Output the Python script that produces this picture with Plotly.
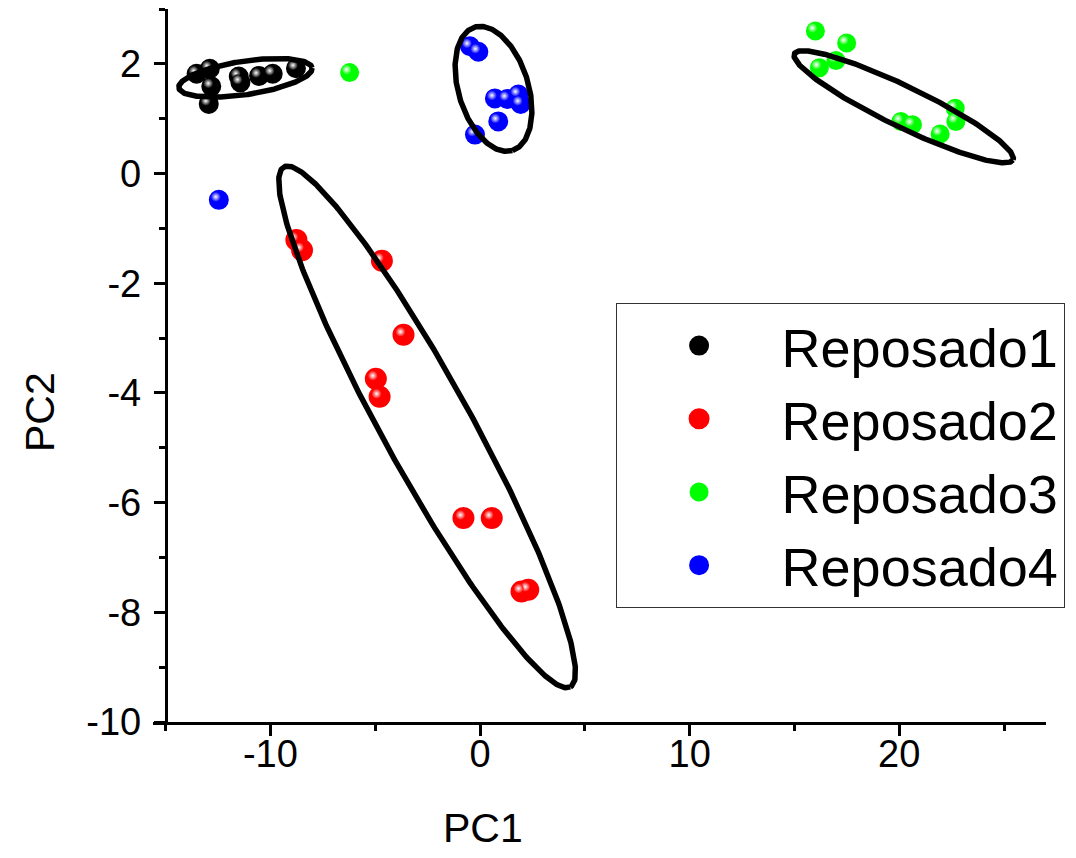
import numpy as np
import plotly.graph_objects as go

# ---- PCA scores (PC1, PC2) for each group ----
rep1_pc1 = [-13.52, -12.89, -12.82, -12.94, -11.51, -11.43, -10.54, -9.89, -8.78]
rep1_pc2 = [1.82, 1.91, 1.59, 1.27, 1.77, 1.66, 1.78, 1.82, 1.92]

rep2_pc1 = [-8.49, -8.76, -4.68, -3.65, -4.97, -4.79, -0.79, 0.56, 2.30, 1.98]
rep2_pc2 = [-1.40, -1.21, -1.59, -2.94, -3.74, -4.07, -6.28, -6.28, -7.59, -7.62]

rep3_pc1 = [16.00, 17.49, 16.98, 16.19, 20.08, 20.63, 21.95, 22.67, 22.70, -6.22]
rep3_pc2 = [2.60, 2.38, 2.06, 1.93, 0.95, 0.89, 0.72, 1.19, 0.95, 1.84]

rep4_pc1 = [-0.48, -0.08, 0.71, 1.30, 1.83, 1.94, 0.87, -0.24, -12.46]
rep4_pc2 = [2.32, 2.22, 1.37, 1.36, 1.44, 1.27, 0.95, 0.71, -0.48]

group_names = ["Reposado1", "Reposado2", "Reposado3", "Reposado4"]

# ---- confidence ellipses: centre and two conjugate semi-axes (PC units) ----
ellipse_center = [(-11.19, 1.745), (-2.524, -4.62), (20.21, 1.217), (0.643, 1.545)]
ellipse_axis_u = [(3.179, 0.182), (6.833, -4.740), (5.216, -0.966), (0.906, -1.124)]
ellipse_axis_v = [(0.1186, -0.303), (-1.850, -0.391), (-0.421, -0.333), (-1.593, -0.188)]

# ---- axes ----
x_range = [-15.6, 27]
y_range = [-10, 3]
x_tick_vals = [-10, 0, 10, 20]
x_tick_text = ["-10", "0", "10", "20"]
y_tick_vals = [-10, -8, -6, -4, -2, 0, 2]
y_tick_text = ["-10", "-8", "-6", "-4", "-2", "0", "2"]

# ---- styling ----
colors = ["#000000", "#ff0000", "#00ff00", "#0000ff"]
marker_core = [15, 17, 14, 15]
marker_rim = 5
FONT = "Liberation Sans, Arial, sans-serif"

W, H = 1076, 858
M = dict(l=153, r=30, t=9, b=136, autoexpand=False)
plot_w = W - M["l"] - M["r"]
plot_h = H - M["t"] - M["b"]
px_x = plot_w / (x_range[1] - x_range[0])
px_y = plot_h / (y_range[1] - y_range[0])
# shine spot sits a few pixels up-left of each ball's centre
shine_dx = -3.0 / px_x
shine_dy = 3.0 / px_y

groups = [(rep1_pc1, rep1_pc2), (rep2_pc1, rep2_pc2),
          (rep3_pc1, rep3_pc2), (rep4_pc1, rep4_pc2)]

fig = go.Figure()

for i, (xs, ys) in enumerate(groups):
    fig.add_trace(go.Scatter(
        x=xs, y=ys, mode="markers", name=group_names[i],
        legendgroup=group_names[i],
        marker=dict(size=marker_core[i], color=colors[i],
                    line=dict(width=marker_rim, color=colors[i])),
    ))
    fig.add_trace(go.Scatter(
        x=np.array(xs) + shine_dx, y=np.array(ys) + shine_dy,
        mode="markers", showlegend=False, legendgroup=group_names[i],
        hoverinfo="skip",
        marker=dict(size=10, color=colors[i],
                    gradient=dict(type="radial", color="#ffffff"),
                    line=dict(width=0)),
    ))

t = np.linspace(0, 2 * np.pi, 361)
for (cx, cy), (ux, uy), (vx, vy) in zip(ellipse_center, ellipse_axis_u, ellipse_axis_v):
    fig.add_trace(go.Scatter(
        x=cx + ux * np.cos(t) + vx * np.sin(t),
        y=cy + uy * np.cos(t) + vy * np.sin(t),
        mode="lines", showlegend=False, hoverinfo="skip",
        line=dict(color="black", width=5.5),
    ))

axis_common = dict(
    showgrid=False, zeroline=False, showline=True, linecolor="black",
    linewidth=2.5, ticks="outside", ticklen=11, tickwidth=2.5,
    tickcolor="black", tickfont=dict(size=38, family=FONT, color="black"),
)

fig.update_layout(
    width=W, height=H, margin=M,
    plot_bgcolor="white", paper_bgcolor="white",
    font=dict(family=FONT, color="black"),
    xaxis=dict(range=x_range, tickmode="array", tickvals=x_tick_vals,
               ticktext=x_tick_text, anchor="y", ticklabelstandoff=-14,
               minor=dict(dtick=5, tick0=0, ticks="outside", ticklen=6,
                          tickwidth=2.5, tickcolor="black", showgrid=False),
               **axis_common),
    yaxis=dict(range=y_range, tickmode="array", tickvals=y_tick_vals,
               ticktext=y_tick_text, anchor="free", ticklabelstandoff=5,
               position=(-15 - x_range[0]) / (x_range[1] - x_range[0]),
               minor=dict(dtick=1, tick0=0, ticks="outside", ticklen=6,
                          tickwidth=2.5, tickcolor="black", showgrid=False),
               **axis_common),
    legend=dict(x=0.518, y=0.5877, xanchor="left", yanchor="top",
                bgcolor="white", bordercolor="#333333", borderwidth=1,
                font=dict(size=54, family=FONT, color="black"),
                itemwidth=155, tracegroupgap=0),
    annotations=[
        dict(text="PC1", xref="paper", yref="paper", x=0.3695, y=-0.1487,
             xanchor="center", yanchor="middle", showarrow=False,
             font=dict(size=41, family=FONT, color="black")),
        dict(text="PC2", xref="paper", yref="paper", x=-0.1265, y=0.4348,
             xanchor="center", yanchor="middle", showarrow=False, textangle=-90,
             font=dict(size=41, family=FONT, color="black")),
    ],
)

fig.write_html("out.html")
